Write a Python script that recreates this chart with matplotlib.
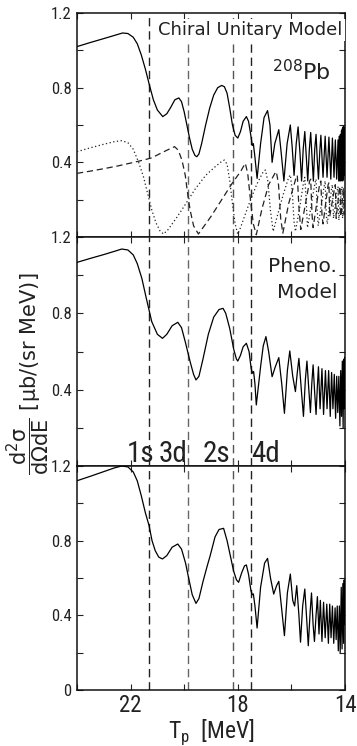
import matplotlib
matplotlib.use('Agg')
import matplotlib.pyplot as plt
from matplotlib import font_manager
from matplotlib.ticker import FixedLocator, NullFormatter

# ---------------- data ----------------
# Panel 1 : Chiral Unitary Model, total (solid)
cu_tot_x = [24.0, 23.5, 23.0, 22.6, 22.3, 22.1, 21.9, 21.75, 21.6, 21.45, 21.3, 21.15, 21.0, 20.8, 20.65,
            20.5, 20.35, 20.2, 20.1, 20.0, 19.9, 19.8, 19.7, 19.6, 19.53, 19.45, 19.35, 19.2, 19.05, 18.9,
            18.75, 18.6, 18.5, 18.4, 18.3, 18.2, 18.1, 18.0, 17.9, 17.8, 17.68, 17.6, 17.52, 17.46, 17.42,
            17.37, 17.28, 17.15, 17.02, 16.89, 16.80, 16.72, 16.62, 16.47, 16.38, 16.28, 16.16, 16.04, 15.97,
            15.90, 15.82, 15.75, 15.68, 15.62, 15.56, 15.50, 15.44, 15.39, 15.33, 15.28, 15.22, 15.18, 15.13,
            15.08, 15.03, 14.99, 14.94, 14.90, 14.82, 14.74, 14.67, 14.60, 14.53, 14.47, 14.41, 14.36, 14.31,
            14.26, 14.235, 14.21, 14.19, 14.17, 14.15, 14.13, 14.115, 14.10, 14.085, 14.07, 14.055, 14.04,
            14.03, 14.02, 14.01, 14.0]
cu_tot_y = [1.020, 1.042, 1.063, 1.080, 1.093, 1.090, 1.070, 1.035, 0.975, 0.900, 0.815, 0.735, 0.680, 0.645, 0.660,
            0.695, 0.735, 0.745, 0.725, 0.670, 0.600, 0.530, 0.470, 0.437, 0.430, 0.445, 0.500, 0.600, 0.690, 0.760,
            0.800, 0.812, 0.805, 0.770, 0.690, 0.600, 0.545, 0.530, 0.565, 0.620, 0.645, 0.620, 0.550, 0.490, 0.500,
            0.440, 0.314, 0.500, 0.640, 0.677, 0.600, 0.400, 0.500, 0.575, 0.450, 0.300, 0.500, 0.600, 0.480,
            0.330, 0.500, 0.590, 0.450, 0.300, 0.470, 0.565, 0.420, 0.300, 0.470, 0.560, 0.400, 0.300, 0.470,
            0.550, 0.400, 0.310, 0.460, 0.545, 0.320, 0.540, 0.320, 0.535, 0.310, 0.530, 0.320, 0.520, 0.310,
            0.520, 0.300, 0.540, 0.300, 0.550, 0.300, 0.570, 0.310, 0.580, 0.300, 0.590, 0.310, 0.590,
            0.330, 0.580, 0.340, 0.500]

# Panel 1 : first component (dotted)
cu_dot_x = [24.0, 23.5, 23.0, 22.6, 22.33, 22.1, 21.9, 21.7, 21.52, 21.35, 21.21, 21.05, 20.9, 20.77, 20.6,
            20.3, 20.0, 19.6, 19.2, 18.84, 18.6, 18.5, 18.4, 18.3, 18.2, 18.1, 18.0, 17.9, 17.6, 17.3,
            17.05, 16.97, 16.88, 16.78, 16.68, 16.55, 16.3, 16.1, 16.04, 15.97, 15.90, 15.85, 15.70, 15.55,
            15.50, 15.45, 15.40, 15.25, 15.12, 15.08, 15.04, 15.00, 14.78, 14.74, 14.70, 14.66, 14.50, 14.47,
            14.43, 14.28, 14.26, 14.23, 14.13, 14.11, 14.09, 14.03, 14.0]
cu_dot_y = [0.457, 0.478, 0.497, 0.511, 0.516, 0.505, 0.470, 0.400, 0.323, 0.225, 0.145, 0.075, 0.032, 0.016, 0.040,
            0.100, 0.165, 0.255, 0.330, 0.377, 0.405, 0.412, 0.390, 0.300, 0.180, 0.070, 0.015, 0.050, 0.170, 0.280,
            0.350, 0.359, 0.300, 0.140, 0.030, 0.100, 0.230, 0.320, 0.332, 0.250, 0.080, 0.030, 0.150, 0.290,
            0.320, 0.200, 0.050, 0.180, 0.290, 0.310, 0.150, 0.060, 0.270, 0.300, 0.120, 0.070, 0.260, 0.280,
            0.100, 0.260, 0.270, 0.090, 0.260, 0.270, 0.100, 0.250, 0.130]

# Panel 1 : second component (dashed)
cu_dash_x = [24.0, 23.5, 23.0, 22.5, 22.0, 21.5, 21.21, 20.9, 20.6, 20.36, 20.22, 20.08, 19.96, 19.86, 19.78,
             19.65, 19.47, 19.3, 19.0, 18.6, 18.2, 17.9, 17.72, 17.63, 17.52, 17.42, 17.31, 17.1, 16.85, 16.60,
             16.56, 16.48, 16.40, 16.32, 16.10, 15.82, 15.78, 15.72, 15.65, 15.32, 15.28, 15.23, 15.19, 14.94,
             14.90, 14.86, 14.82, 14.63, 14.60, 14.57, 14.38, 14.36, 14.33, 14.20, 14.18, 14.16, 14.06, 14.05,
             14.03, 14.0]
cu_dash_y = [0.341, 0.353, 0.366, 0.380, 0.396, 0.413, 0.424, 0.447, 0.468, 0.484, 0.465, 0.410, 0.330, 0.220, 0.145,
             0.060, 0.016, 0.050, 0.110, 0.200, 0.290, 0.350, 0.395, 0.340, 0.190, 0.070, 0.012, 0.150, 0.280, 0.345,
             0.350, 0.280, 0.100, 0.020, 0.180, 0.320, 0.330, 0.160, 0.040, 0.300, 0.310, 0.120, 0.050, 0.290,
             0.300, 0.120, 0.070, 0.280, 0.290, 0.110, 0.270, 0.280, 0.100, 0.270, 0.270, 0.110, 0.260, 0.260,
             0.120, 0.200]

# Panel 2 : Phenomenological model
ph_x = [24.0, 23.5, 23.0, 22.6, 22.33, 22.1, 21.9, 21.75, 21.58, 21.4, 21.21, 21.0, 20.81, 20.65, 20.45,
        20.24, 20.1, 19.95, 19.78, 19.65, 19.56, 19.45, 19.3, 19.1, 18.9, 18.7, 18.55, 18.45, 18.3, 18.15,
        18.05, 18.0, 17.9, 17.8, 17.68, 17.58, 17.5, 17.45, 17.41, 17.36, 17.31, 17.15, 17.05, 16.95, 16.85,
        16.72, 16.6, 16.47, 16.36, 16.26, 16.15, 16.06, 15.95, 15.85, 15.78, 15.72, 15.63, 15.55, 15.48,
        15.42, 15.35, 15.29, 15.24, 15.19, 15.13, 15.08, 15.03, 14.99, 14.93, 14.86, 14.80, 14.73, 14.67,
        14.61, 14.55, 14.50, 14.45, 14.40, 14.35, 14.31, 14.27, 14.23, 14.19, 14.16, 14.13, 14.10, 14.07,
        14.05, 14.03, 14.01, 14.0]
ph_y = [1.067, 1.088, 1.108, 1.125, 1.137, 1.132, 1.106, 1.060, 0.983, 0.870, 0.756, 0.690, 0.669, 0.690, 0.735,
        0.753, 0.725, 0.645, 0.547, 0.480, 0.451, 0.470, 0.560, 0.690, 0.780, 0.820, 0.826, 0.800, 0.720, 0.610,
        0.560, 0.550, 0.580, 0.625, 0.643, 0.600, 0.510, 0.486, 0.495, 0.430, 0.320, 0.520, 0.630, 0.678, 0.600,
        0.468, 0.520, 0.568, 0.430, 0.276, 0.500, 0.603, 0.470, 0.390, 0.490, 0.564, 0.400, 0.260, 0.450,
        0.550, 0.400, 0.280, 0.430, 0.530, 0.380, 0.270, 0.420, 0.520, 0.300, 0.510, 0.270, 0.500, 0.300,
        0.500, 0.260, 0.490, 0.300, 0.480, 0.250, 0.470, 0.280, 0.470, 0.210, 0.500, 0.260, 0.550, 0.200,
        0.560, 0.300, 0.570, 0.450]

# Panel 3 : third calculation
th_x = [24.0, 23.5, 23.0, 22.6, 22.33, 22.1, 21.9, 21.75, 21.6, 21.45, 21.31, 21.2, 21.08, 20.95, 20.81,
        20.65, 20.45, 20.24, 20.1, 19.95, 19.84, 19.7, 19.56, 19.45, 19.3, 19.15, 19.03, 18.85, 18.7, 18.53,
        18.4, 18.25, 18.16, 18.05, 17.97, 17.85, 17.75, 17.68, 17.6, 17.51, 17.46, 17.42, 17.36, 17.28, 17.15,
        17.0, 16.89, 16.78, 16.66, 16.55, 16.47, 16.36, 16.26, 16.15, 16.04, 15.95, 15.88, 15.80, 15.72,
        15.66, 15.58, 15.50, 15.43, 15.37, 15.30, 15.25, 15.19, 15.14, 15.08, 15.03, 14.97, 14.92, 14.86,
        14.80, 14.74, 14.68, 14.62, 14.57, 14.52, 14.47, 14.42, 14.37, 14.33, 14.29, 14.25, 14.21, 14.18,
        14.14, 14.11, 14.08, 14.05, 14.03, 14.01, 14.0]
th_y = [1.121, 1.145, 1.170, 1.190, 1.200, 1.195, 1.168, 1.120, 1.040, 0.950, 0.880, 0.800, 0.746, 0.712, 0.702,
        0.720, 0.765, 0.782, 0.755, 0.680, 0.604, 0.510, 0.464, 0.490, 0.580, 0.660, 0.720, 0.820, 0.860, 0.866,
        0.800, 0.700, 0.639, 0.590, 0.577, 0.630, 0.665, 0.670, 0.620, 0.532, 0.510, 0.515, 0.450, 0.332, 0.550,
        0.680, 0.705, 0.600, 0.514, 0.560, 0.582, 0.430, 0.291, 0.520, 0.621, 0.480, 0.450, 0.559, 0.400,
        0.256, 0.450, 0.541, 0.380, 0.237, 0.420, 0.520, 0.350, 0.260, 0.400, 0.500, 0.300, 0.480, 0.260,
        0.470, 0.280, 0.460, 0.250, 0.460, 0.280, 0.450, 0.250, 0.440, 0.270, 0.450, 0.210, 0.450, 0.200,
        0.550, 0.220, 0.570, 0.250, 0.590, 0.350, 0.500]

# state positions (vertical dashed lines) and labels
state_x = [21.30, 19.84, 18.19, 17.52]
state_colors = ['#222222', '#666666', '#555555', '#222222']
state_labels = ['1s', '3d', '2s', '4d']
state_label_x = [21.64, 20.41, 18.78, 16.98]

x_ticks = [24, 22, 20, 18, 16, 14]
x_ticklabels = ['', '22', '', '18', '', '14']
y_ticks = [0.0, 0.2, 0.4, 0.6, 0.8, 1.0, 1.2]

# ---------------- fonts ----------------
available = {f.name for f in font_manager.fontManager.ttflist}
narrow_pref = [n for n in ['Roboto Condensed', 'Liberation Sans Narrow', 'Open Sans Condensed',
                           'Liberation Sans'] if n in available]
NARROW = narrow_pref[:1] + ['DejaVu Sans']
plt.rcParams['font.family'] = ['DejaVu Sans']

# ---------------- figure ----------------
W, H = 357, 746
fig = plt.figure(figsize=(W / 100, H / 100), dpi=100)

left = 77 / W
width = (345 - 77) / W
bounds = [(13, 237), (237, 466), (466, 690)]
axes = []
for top, bot in bounds:
    ax = fig.add_axes([left, 1 - bot / H, width, (bot - top) / H])
    axes.append(ax)

for i, ax in enumerate(axes):
    ax.set_xlim(24, 14)
    ax.set_ylim(0, 1.2)
    ax.xaxis.set_major_locator(FixedLocator(x_ticks))
    ax.yaxis.set_major_locator(FixedLocator(y_ticks))
    if i == 2:
        ax.set_xticklabels(x_ticklabels)
        ylabels = ['0', '', '0.4', '', '0.8', '', '1.2']
    else:
        ax.xaxis.set_major_formatter(NullFormatter())
        ylabels = ['', '', '0.4', '', '0.8', '', '1.2']
    ax.set_yticklabels(ylabels)
    ax.tick_params(direction='in', length=4, width=0.8, top=True, right=True, colors='#222222')
    ax.tick_params(axis='y', labelsize=12, pad=4)
    ax.tick_params(axis='x', labelsize=16.5, pad=3)
    for lab in ax.get_yticklabels():
        lab.set_family(NARROW)
    for lab in ax.get_xticklabels():
        lab.set_family(NARROW)
    for sp in ax.spines.values():
        sp.set_linewidth(1.1)
        sp.set_color('#111111')
    for sx, sc in zip(state_x, state_colors):
        ax.axvline(sx, color=sc, lw=1.0, dashes=(6, 3.5), zorder=1)

# curves
a1, a2, a3 = axes
a1.plot(cu_tot_x, cu_tot_y, color='black', lw=0.9, zorder=3)
a1.plot(cu_dot_x, cu_dot_y, color='#222222', lw=0.9, ls=(0, (1, 2)), zorder=3)
a1.plot(cu_dash_x, cu_dash_y, color='#222222', lw=0.9, dashes=(5, 3), zorder=3)
a2.plot(ph_x, ph_y, color='black', lw=0.9, zorder=3)
a3.plot(th_x, th_y, color='black', lw=0.9, zorder=3)

# texts
a1.text(14.09, 1.082, 'Chiral Unitary Model', ha='right', va='baseline', fontsize=13,
        color='#222222', zorder=4,
        bbox=dict(facecolor='white', edgecolor='none', pad=1.5))
a1.text(14.54, 0.84, r'$^{\mathregular{208}}$Pb', ha='right', va='baseline', fontsize=16,
        color='#222222', zorder=4)
a2.text(15.59, 1.017, 'Pheno.', ha='center', va='baseline', fontsize=14.5, color='#222222')
a2.text(15.42, 0.880, 'Model', ha='center', va='baseline', fontsize=14.5, color='#222222')
for lx, lt in zip(state_label_x, state_labels):
    a2.text(lx, 0.023, lt, ha='center', va='baseline', fontsize=21, family=NARROW, color='#222222')

a3.set_xlabel(r'T$_{\mathregular{p}}$  [MeV]', fontsize=17, family=NARROW, labelpad=0, color='#222222')

fig.text(0.078, 1 - 374 / H, r'$\mathregular{\dfrac{d^2\sigma}{d\Omega dE}}$ [μb/(sr MeV)]',
         rotation=90, ha='center', va='center', fontsize=15, color='#222222')

fig.savefig('out.png', dpi=100)
